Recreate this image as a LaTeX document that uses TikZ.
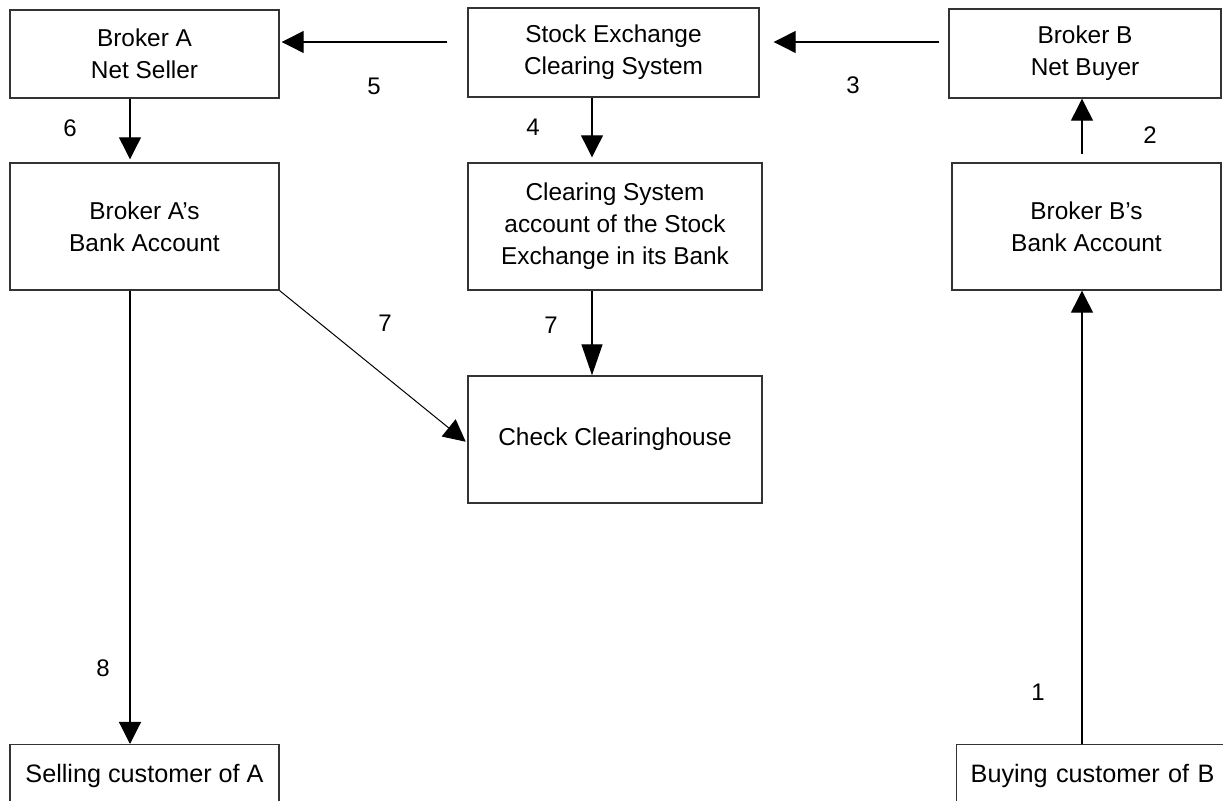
\documentclass[tikz,border=0pt]{standalone}
\usepackage{fontspec}
\setmainfont{Liberation Sans}
\usetikzlibrary{arrows.meta}
\begin{document}
\begin{tikzpicture}[x=0.5pt,y=-0.5pt,
  box/.style={draw=black!80, line width=0.7pt, inner sep=0pt, align=center,
    font=\fontsize{12.2}{16}\selectfont},
  lbl/.style={inner sep=0pt, font=\fontsize{12}{16}\selectfont},
  arr/.style={draw=black, line width=0.6pt, -{Triangle[length=11pt,width=11pt]}},
  longarr/.style={draw=black, line width=0.6pt, -{Triangle[length=15.5pt,width=10.5pt]}}]
\clip (0,0) rectangle (1223,801);
% nodes
\node[box, minimum width=134.5pt, minimum height=44pt] (ba) at (144.5,54) {Broker A\\Net Seller};
\node[box, minimum width=145.5pt, minimum height=44.5pt] (se) at (613.5,52.5) {Stock Exchange\\Clearing System};
\node[box, minimum width=136pt, minimum height=44.5pt] (bb) at (1085,53.5) {Broker B\\Net Buyer};
\node[box, minimum width=134.5pt, minimum height=63.5pt] (bab) at (144.5,226.5) {Broker A’s\\Bank Account};
\node[box, minimum width=147pt, minimum height=63.5pt] (csa) at (615,226.5) {Clearing System\\account of the Stock\\Exchange in its Bank};
\node[box, minimum width=134.5pt, minimum height=63.5pt] (bbb) at (1086.5,226.5) {Broker B’s\\Bank Account};
\node[box, minimum width=147pt, minimum height=63.5pt] (cc) at (615,439.5) {Check Clearinghouse};
\node[box, font=\fontsize{12.6}{16}\selectfont, anchor=north, minimum width=134.5pt,
  text height=18.75pt, text depth=30pt] (sc) at (144.5,744) {Selling customer of A};
\node[box, font=\fontsize{12.6}{16}\selectfont, anchor=north west, inner xsep=7pt, text width=140pt, align=left,
  text height=18.75pt, text depth=30pt] (bc) at (956,744) {Buying customer of B};
% lanes
\coordinate (y5) at (0,42);
\coordinate (x4) at (592,0);
\coordinate (x6) at (130,0);
\coordinate (x2) at (1082,0);
% connectors
\draw[arr, shorten <=10pt, shorten >=1pt] (se.west |- y5) -- (ba.east |- y5);
\draw[arr, shorten <=4.5pt, shorten >=7pt] (bb.west |- y5) -- (se.east |- y5);
\draw[arr, shorten >=2.5pt] (x4 |- se.south) -- (x4 |- csa.north);
\draw[arr, shorten >=1.5pt] (x6 |- ba.south) -- (x6 |- bab.north);
\draw[arr, shorten <=4pt] (x2 |- bbb.north) -- (x2 |- bb.south);
\draw[arr] (x2 |- bc.north) -- (x2 |- bbb.south);
\draw[arr] (x6 |- bab.south) -- (x6 |- sc.north);
\draw[longarr] (x4 |- csa.south) -- (x4 |- cc.north);
\draw[arr, line width=0.5pt, shorten >=1pt] (bab.south east) -- ([yshift=-1.75pt]cc.west);
% labels
\node[lbl] (l5) at (374,86) {5};
\node[lbl] (l3) at (853,85) {3};
\node[lbl] (l6) at (70,128) {6};
\node[lbl] (l4) at (533,127) {4};
\node[lbl] (l2) at (1150,135) {2};
\node[lbl] (l7a) at (385,323) {7};
\node[lbl] (l7b) at (551,325) {7};
\node[lbl] (l8) at (103,668) {8};
\node[lbl] (l1) at (1038,692) {1};
\end{tikzpicture}
\end{document}
